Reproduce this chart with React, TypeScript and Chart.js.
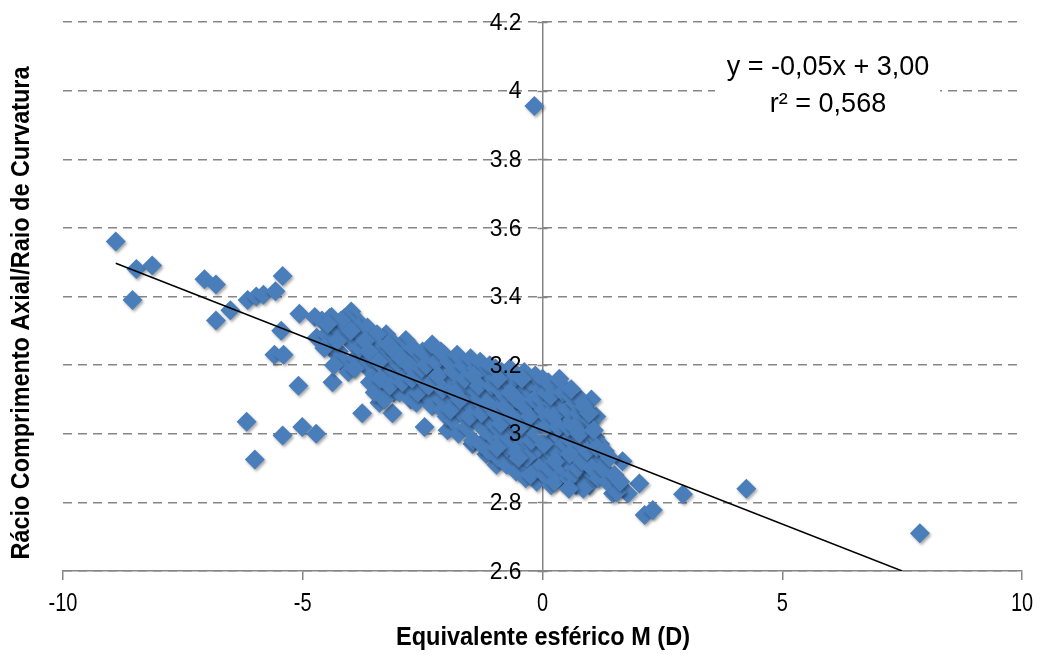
import React, { useEffect, useRef } from "react";
import { Chart, registerables } from "chart.js";

Chart.register(...registerables);

const xTicks = [-10, -5, 0, 5, 10];
const xTickLabels = ["-10", "-5", "0", "5", "10"];
const yTicks = [2.6, 2.8, 3.0, 3.2, 3.4, 3.6, 3.8, 4.0, 4.2];
const yTickLabels = ["2.6", "2.8", "3", "3.2", "3.4", "3.6", "3.8", "4", "4.2"];
const xTitle = "Equivalente esférico M (D)";
const yTitle = "Rácio Comprimento Axial/Raio de Curvatura";
const equationLines = ["y = -0,05x + 3,00", "r² = 0,568"];

// Linear trend line endpoints (M, ratio)
const trendM = [-8.9, 7.5];
const trendRatio = [3.497, 2.6];

// Isolated points [M, ratio]
const outlierPoints: number[][] = [
  [-8.9, 3.56], [-8.55, 3.39], [-8.47, 3.48], [-8.14, 3.49], [-7.05, 3.45],
  [-6.81, 3.435], [-6.81, 3.33], [-6.51, 3.36], [-6.15, 3.39], [-5.97, 3.4],
  [-5.82, 3.405], [-5.57, 3.415], [-5.42, 3.46], [-5.45, 3.3], [-5.59, 3.23],
  [-5.4, 3.23], [-5.09, 3.14], [-6.17, 3.035], [-6.0, 2.925], [-5.42, 2.995],
  [-5.01, 3.02], [-4.72, 3.0], [-5.07, 3.35], [-4.75, 3.34], [-4.44, 3.337],
  [-4.13, 3.337], [-3.99, 3.356], [-3.86, 3.33], [-4.38, 3.15], [-3.76, 3.06],
  [-3.4, 3.09], [-3.13, 3.06], [-2.46, 3.02], [-1.98, 3.01], [-3.26, 3.29],
  [-2.85, 3.273], [-0.17, 3.955], [7.87, 2.71], [4.25, 2.84], [2.93, 2.824],
  [2.13, 2.763], [2.3, 2.778], [2.02, 2.855], [1.78, 2.826], [1.47, 2.826],
  [1.67, 2.92], [-4.71, 3.28], [-4.38, 3.244], [-4.17, 3.206],
  [-1.46, 2.97], [-1.17, 2.94], [-0.96, 2.91],
];

// Dense band of points [M, ratio]
const clusterPoints: number[][] = [
  [-4.6, 3.33], [-4.5, 3.29], [-4.42, 3.27], [-4.3, 3.31], [-4.25, 3.24],
  [-4.15, 3.21], [-4.1, 3.29], [-4.05, 3.33], [-3.95, 3.26], [-3.9, 3.22],
  [-4.4, 3.34], [-4.2, 3.33], [-3.85, 3.31], [-4.35, 3.2], [-4.05, 3.18],
  [-3.8, 3.29], [-3.75, 3.24], [-3.7, 3.2], [-3.65, 3.31], [-3.6, 3.27],
  [-3.55, 3.22], [-3.5, 3.17], [-3.45, 3.29], [-3.4, 3.25], [-3.35, 3.2],
  [-3.3, 3.14], [-3.25, 3.23], [-3.2, 3.18], [-3.15, 3.27], [-3.1, 3.12],
  [-3.05, 3.21], [-3.0, 3.16], [-3.6, 3.15], [-3.5, 3.12], [-3.3, 3.1],
  [-2.98, 3.12], [-3.0, 3.25],
  [-4.55, 3.25], [-4.48, 3.32], [-4.28, 3.27], [-4.0, 3.3], [-3.92, 3.19],
  [-3.82, 3.25], [-3.7, 3.27], [-3.62, 3.24], [-3.42, 3.21], [-3.38, 3.16],
  [-3.22, 3.26], [-3.18, 3.14], [-3.08, 3.24],
  [-2.9, 3.19], [-2.85, 3.23], [-2.8, 3.14], [-2.75, 3.1], [-2.7, 3.25],
  [-2.65, 3.18], [-2.63, 3.09], [-2.6, 3.21], [-2.55, 3.13], [-2.5, 3.24],
  [-2.45, 3.16], [-2.4, 3.11], [-2.35, 3.22], [-2.3, 3.08], [-2.28, 3.18],
  [-2.25, 3.25], [-2.2, 3.14], [-2.15, 3.2], [-2.1, 3.1], [-2.09, 3.07],
  [-2.05, 3.23], [-2.0, 3.16], [-2.0, 3.05], [-2.3, 3.26], [-2.6, 3.12],
  [-2.95, 3.22], [-2.92, 3.15], [-2.78, 3.2], [-2.72, 3.16], [-2.58, 3.17],
  [-2.52, 3.19], [-2.42, 3.2], [-2.38, 3.14], [-2.22, 3.21], [-2.18, 3.17],
  [-2.12, 3.24], [-2.08, 3.13],
  [-1.95, 3.21], [-1.9, 3.13], [-1.88, 3.04], [-1.85, 3.18], [-1.8, 3.09],
  [-1.78, 3.23], [-1.75, 3.0], [-1.7, 3.15], [-1.68, 3.06], [-1.65, 3.2],
  [-1.6, 3.11], [-1.58, 3.02], [-1.55, 3.17], [-1.5, 3.22], [-1.48, 3.08],
  [-1.45, 2.98], [-1.42, 3.13], [-1.4, 3.19], [-1.38, 3.04], [-1.35, 3.1],
  [-1.3, 3.21], [-1.28, 2.97], [-1.25, 3.15], [-1.22, 3.07], [-1.2, 3.01],
  [-1.18, 3.18], [-1.15, 3.12], [-1.12, 2.95], [-1.1, 3.2], [-1.08, 3.04],
  [-1.05, 3.1], [-1.02, 2.99], [-1.0, 3.16], [-1.0, 3.07],
  [-1.92, 3.07], [-1.83, 3.12], [-1.72, 3.1], [-1.62, 3.16], [-1.52, 3.05],
  [-1.44, 3.17], [-1.33, 3.14], [-1.27, 3.06], [-1.16, 3.09], [-1.06, 3.14],
  [-0.98, 3.19], [-0.95, 3.02], [-0.92, 2.93], [-0.9, 3.13], [-0.88, 3.08],
  [-0.85, 3.18], [-0.82, 2.97], [-0.8, 3.05], [-0.78, 3.11], [-0.75, 2.91],
  [-0.72, 3.15], [-0.7, 3.0], [-0.68, 3.19], [-0.65, 3.08], [-0.62, 2.94],
  [-0.6, 3.12], [-0.58, 3.03], [-0.55, 2.89], [-0.52, 3.17], [-0.5, 2.98],
  [-0.48, 3.09], [-0.45, 3.14], [-0.42, 2.92], [-0.4, 3.05], [-0.38, 3.18],
  [-0.35, 2.87], [-0.32, 3.0], [-0.3, 3.11], [-0.28, 2.95], [-0.25, 3.15],
  [-0.22, 3.06], [-0.2, 2.9], [-0.18, 3.02], [-0.15, 3.17], [-0.12, 2.86],
  [-0.1, 3.09], [-0.08, 2.97], [-0.05, 3.13], [-0.03, 3.04], [0.0, 2.92],
  [0.0, 3.16], [-0.6, 3.16], [-0.85, 2.99], [-0.4, 2.97], [-0.15, 2.95],
  [-0.97, 3.06], [-0.93, 3.16], [-0.87, 3.03], [-0.77, 3.08], [-0.73, 2.96],
  [-0.67, 3.12], [-0.63, 3.05], [-0.57, 2.95], [-0.53, 3.1], [-0.47, 3.02],
  [-0.43, 3.16], [-0.37, 3.08], [-0.33, 2.93], [-0.27, 3.05], [-0.23, 2.98],
  [-0.17, 3.1], [-0.13, 3.0], [-0.07, 2.9], [-0.02, 3.1], [-0.25, 2.88],
  [-0.5, 2.93], [-0.95, 2.96],
  [0.02, 3.07], [0.05, 2.88], [0.08, 3.12], [0.1, 2.98], [0.12, 3.15],
  [0.15, 3.03], [0.18, 2.85], [0.2, 3.09], [0.22, 2.94], [0.25, 3.13],
  [0.28, 3.0], [0.3, 2.89], [0.32, 3.06], [0.35, 3.16], [0.38, 2.96],
  [0.4, 3.1], [0.42, 2.86], [0.45, 3.02], [0.48, 3.13], [0.5, 2.92],
  [0.1, 3.05], [0.3, 2.95], [0.45, 3.07],
  [0.03, 2.97], [0.07, 3.02], [0.13, 2.9], [0.17, 3.11], [0.23, 3.05],
  [0.27, 2.92], [0.33, 3.02], [0.37, 2.88], [0.43, 3.12], [0.47, 2.97],
  [0.25, 2.86],
  [0.52, 3.07], [0.55, 2.87], [0.58, 3.11], [0.6, 2.98], [0.62, 3.04],
  [0.65, 2.9], [0.68, 3.09], [0.7, 2.85], [0.72, 3.0], [0.75, 3.06],
  [0.78, 2.93], [0.8, 3.1], [0.82, 2.87], [0.85, 3.03], [0.88, 2.96],
  [0.9, 3.07], [0.92, 2.9], [0.95, 3.0], [0.98, 2.85], [1.0, 3.04],
  [1.02, 3.1], [1.05, 2.94], [1.08, 2.88], [1.1, 2.99], [1.12, 3.05],
  [1.15, 2.92], [1.2, 2.97], [0.6, 3.13], [0.85, 2.84], [0.7, 2.95],
  [0.53, 3.02], [0.57, 2.94], [0.63, 2.88], [0.67, 3.02], [0.73, 2.9],
  [0.77, 3.0], [0.83, 2.92], [0.87, 3.08], [0.93, 2.95], [0.97, 3.06],
  [1.03, 2.9], [1.07, 3.01], [1.13, 2.96], [1.17, 2.87], [0.55, 2.84],
  [1.25, 2.9], [1.3, 2.95], [1.35, 2.86], [1.4, 2.93], [1.5, 2.88],
  [1.55, 2.83], [1.62, 2.86],
];

const POINT_COLOR = "#4A7EBB";
const GRID_COLOR = "#868686";
const FAMILY = '"Liberation Sans", Arial, sans-serif';

// Draws text squeezed horizontally to mimic a condensed face
function drawNarrow(ctx: CanvasRenderingContext2D, text: string, x: number, y: number, squeeze: number, align: "center" | "right") {
  ctx.save();
  ctx.translate(x, y);
  ctx.scale(squeeze, 1);
  ctx.textAlign = align;
  ctx.fillText(text, 0, 0);
  ctx.restore();
}

const overlayPlugin = {
  id: "overlay",
  beforeDatasetsDraw(chart: any) {
    const ctx = chart.ctx as CanvasRenderingContext2D;
    ctx.save();
    ctx.fillStyle = "#ffffff";
    ctx.fillRect(715, 45, 225, 80);
    ctx.restore();
  },
  beforeDatasetDraw(chart: any, args: any) {
    if (args.index === 0) {
      const ctx = chart.ctx as CanvasRenderingContext2D;
      ctx.save();
      ctx.shadowColor = "rgba(0,0,0,0.35)";
      ctx.shadowBlur = 3;
      ctx.shadowOffsetX = 1.5;
      ctx.shadowOffsetY = 2;
    }
  },
  afterDatasetDraw(chart: any, args: any) {
    if (args.index === 0) chart.ctx.restore();
  },
  afterDraw(chart: any) {
    const ctx = chart.ctx as CanvasRenderingContext2D;
    const xs = chart.scales.x;
    const ys = chart.scales.y;
    const axisX = xs.getPixelForValue(0);
    ctx.save();
    ctx.fillStyle = "#000";
    ctx.textBaseline = "middle";

    // small cross tick marks on the y axis
    ctx.strokeStyle = GRID_COLOR;
    ctx.lineWidth = 1.5;
    yTicks.forEach((v) => {
      const py = Math.round(ys.getPixelForValue(v)) + 0.5;
      ctx.beginPath();
      ctx.moveTo(axisX - 5, py);
      ctx.lineTo(axisX + 5, py);
      ctx.stroke();
    });

    // y tick labels, left of the x = 0 axis
    ctx.font = `24px ${FAMILY}`;
    yTicks.forEach((v, i) => {
      drawNarrow(ctx, yTickLabels[i], axisX - 21, ys.getPixelForValue(v) + 1, 0.95, "right");
    });

    // x tick labels, condensed
    ctx.font = `25px ${FAMILY}`;
    xTicks.forEach((v, i) => {
      drawNarrow(ctx, xTickLabels[i], xs.getPixelForValue(v), chart.chartArea.bottom + 33, 0.8, "center");
    });

    // equation box text
    ctx.textAlign = "center";
    ctx.font = `27px ${FAMILY}`;
    ctx.fillText(equationLines[0], 828, 68);
    ctx.fillText(equationLines[1], 828, 105);

    // axis titles (bold condensed)
    ctx.font = `bold 25px ${FAMILY}`;
    const wx = ctx.measureText(xTitle).width;
    drawNarrow(ctx, xTitle, 543, 638, 294 / wx, "center");
    ctx.save();
    ctx.translate(22, 313);
    ctx.rotate(-Math.PI / 2);
    const wy = ctx.measureText(yTitle).width;
    drawNarrow(ctx, yTitle, 0, 0, 493 / wy, "center");
    ctx.restore();
    ctx.restore();
  },
};

export default function App() {
  const canvasRef = useRef<HTMLCanvasElement | null>(null);

  useEffect(() => {
    if (!canvasRef.current) return;
    const allPoints = [...outlierPoints, ...clusterPoints].map(([x, y]) => ({ x, y }));
    const trend = trendM.map((x, i) => ({ x, y: trendRatio[i] }));
    const chart = new Chart(canvasRef.current, {
      type: "scatter",
      data: {
        datasets: [
          {
            type: "scatter",
            data: allPoints,
            pointStyle: "rectRot",
            pointRadius: 10,
            backgroundColor: POINT_COLOR,
            borderColor: POINT_COLOR,
            borderWidth: 0,
            order: 2,
          } as any,
          {
            type: "line",
            data: trend,
            borderColor: "#000",
            borderWidth: 1.5,
            pointRadius: 0,
            fill: false,
            order: 1,
          } as any,
        ],
      },
      options: {
        animation: false,
        responsive: true,
        maintainAspectRatio: false,
        layout: { padding: { left: 63, right: 18, top: 22, bottom: 0 } },
        plugins: { legend: { display: false }, tooltip: { enabled: false } },
        scales: {
          x: {
            type: "linear",
            position: "bottom",
            min: -10,
            max: 10,
            afterBuildTicks: (s: any) => {
              s.ticks = xTicks.map((v) => ({ value: v }));
            },
            afterFit: (s: any) => {
              s.height = 84;
            },
            grid: {
              drawOnChartArea: false,
              drawTicks: true,
              tickLength: 9,
              color: GRID_COLOR,
              lineWidth: 1.5,
            },
            border: { color: GRID_COLOR, width: 1.5 },
            ticks: { display: false },
          },
          y: {
            type: "linear",
            position: { x: 0 } as any,
            min: 2.6,
            max: 4.2,
            afterBuildTicks: (s: any) => {
              s.ticks = yTicks.map((v) => ({ value: v }));
            },
            grid: {
              color: GRID_COLOR,
              lineWidth: 1.5,
              drawTicks: false,
            } as any,
            border: { color: GRID_COLOR, width: 1.5, dash: [9, 6] } as any,
            ticks: { display: false },
          },
        },
      },
      plugins: [overlayPlugin],
    } as any);
    return () => chart.destroy();
  }, []);

  return (
    <div style={{ position: "absolute", left: 0, top: 0, width: 1040, height: 655, background: "#fff" }}>
      <canvas ref={canvasRef} />
    </div>
  );
}
